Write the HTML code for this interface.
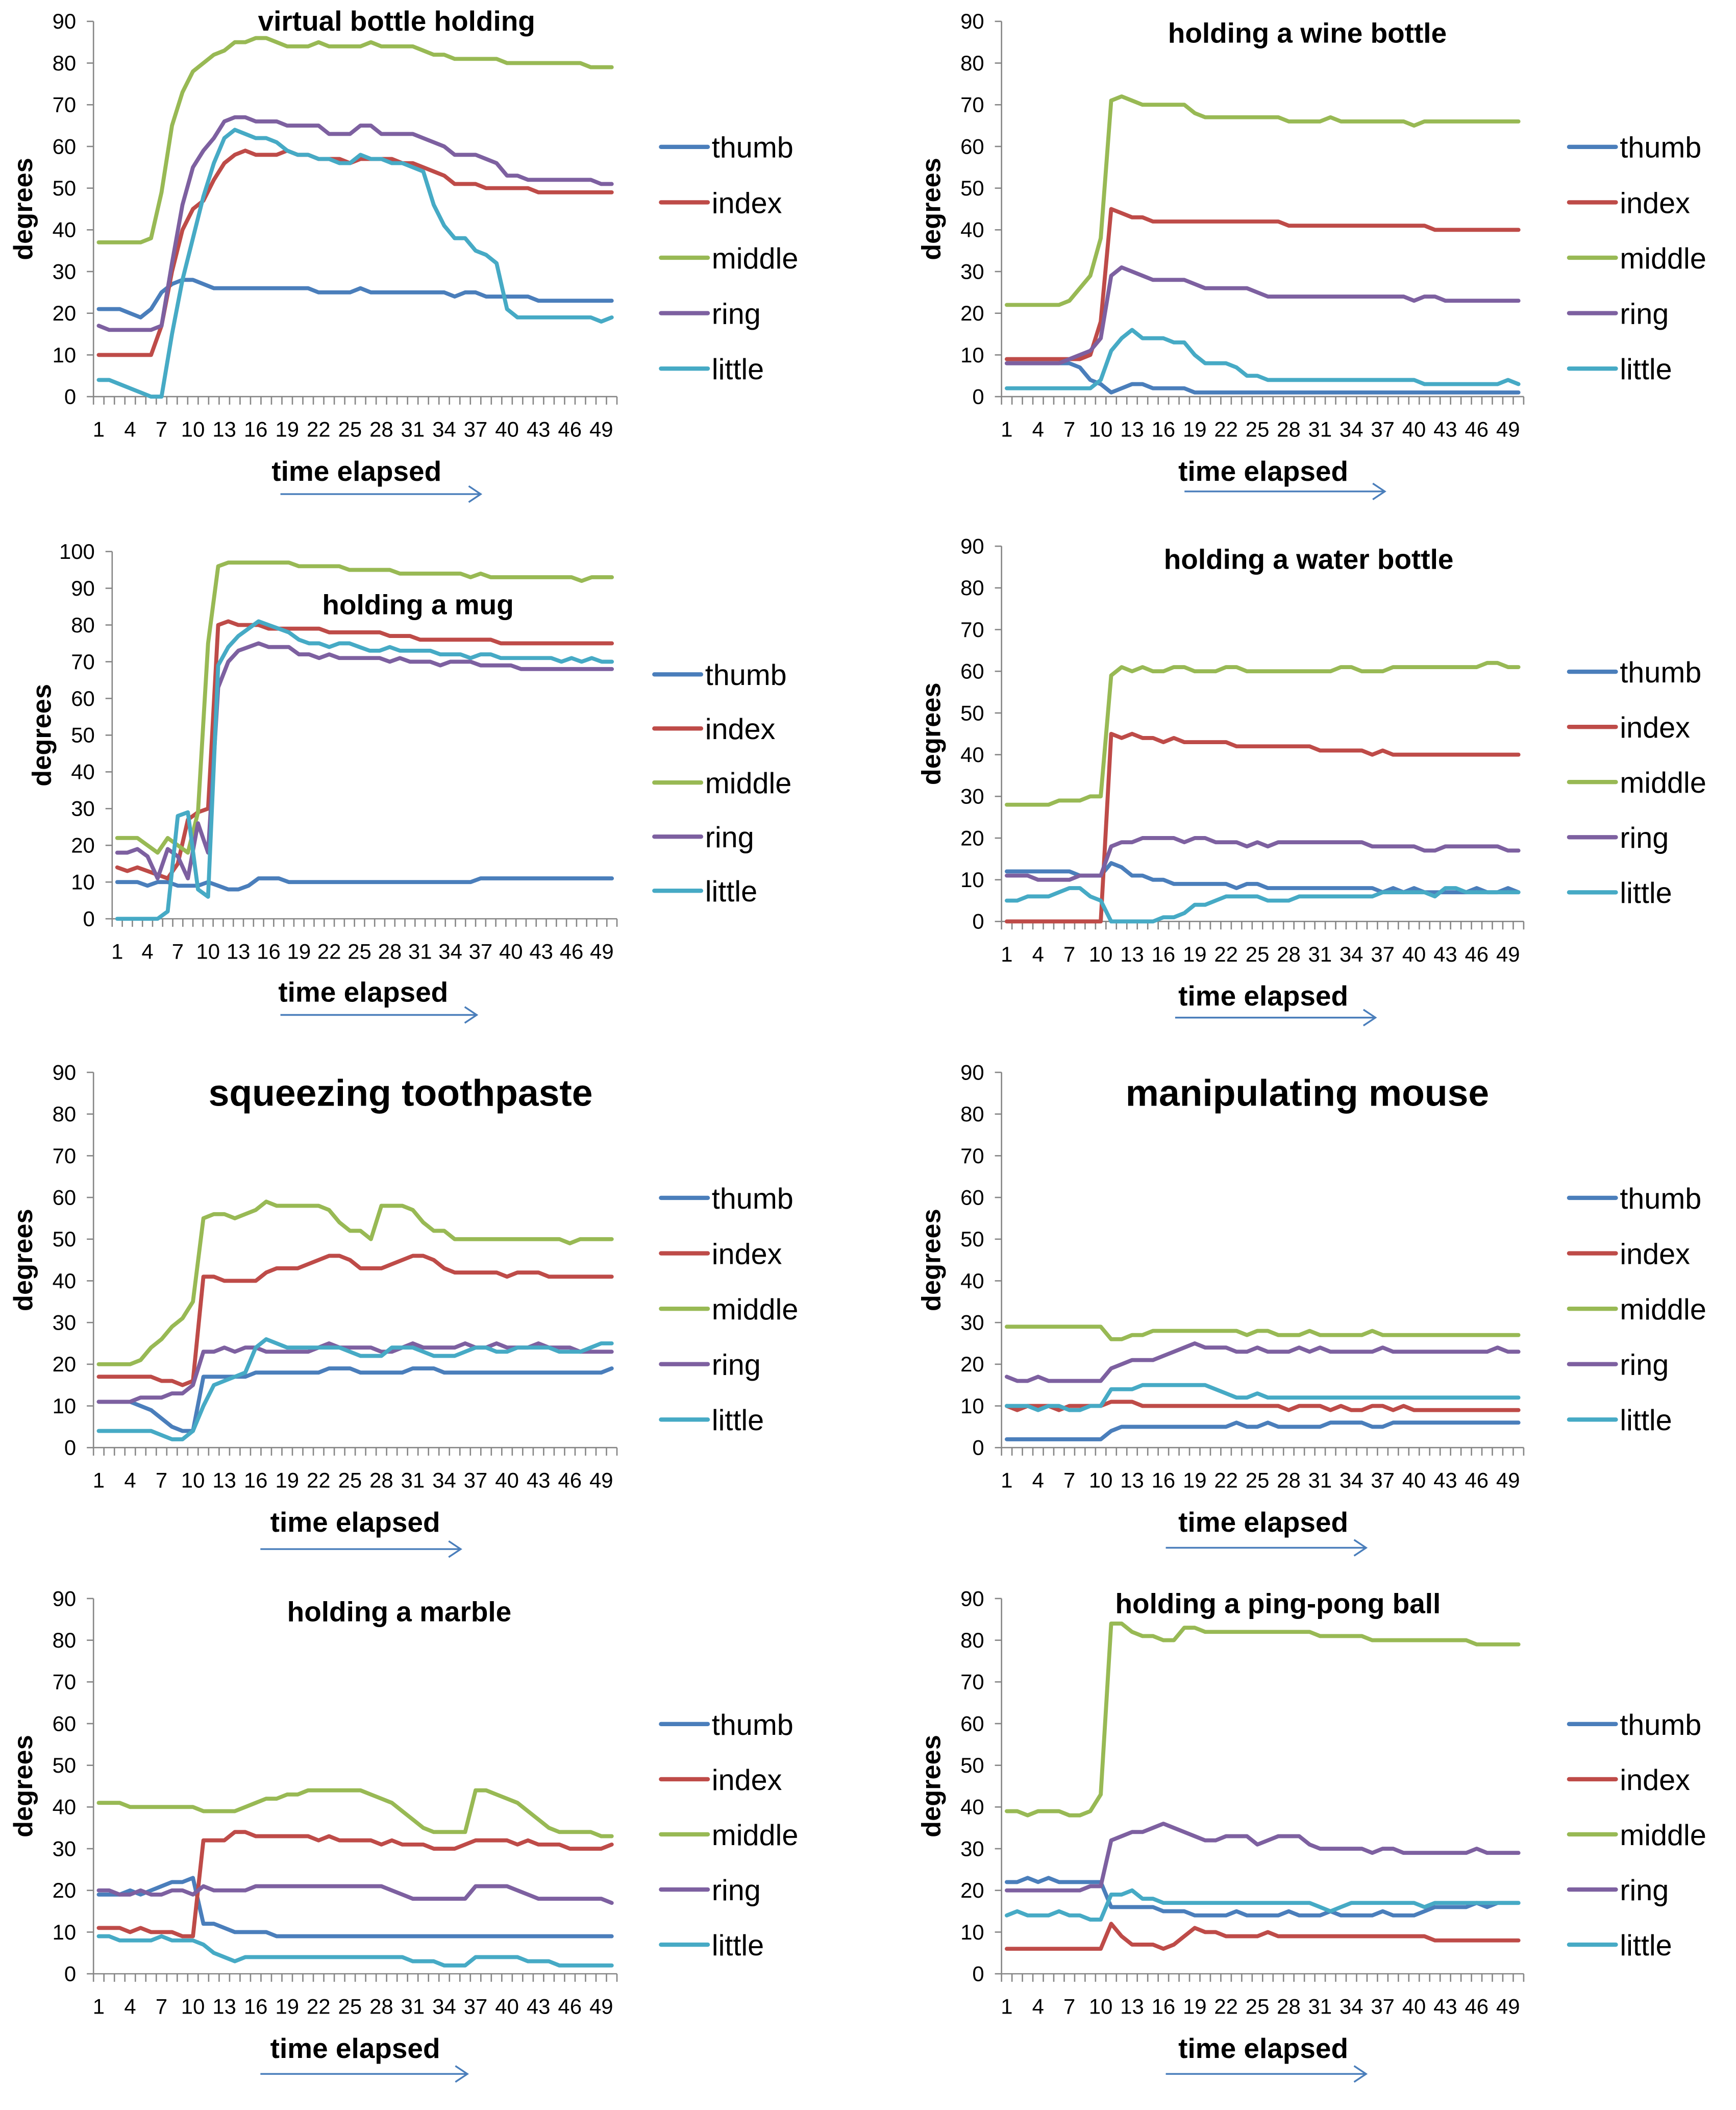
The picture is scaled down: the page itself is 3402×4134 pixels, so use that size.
<!DOCTYPE html>
<html><head><meta charset="utf-8"><title>Finger joint angles</title>
<style>
html,body{margin:0;padding:0;background:#fff;}
svg{display:block;}
text{font-family:"Liberation Sans Narrow","Liberation Sans",sans-serif;fill:#000;}
.b{font-family:"Liberation Sans",sans-serif;font-weight:bold;}
</style></head>
<body>
<svg id="fig" width="3402" height="4134" viewBox="0 0 1300 1580" preserveAspectRatio="none" xmlns="http://www.w3.org/2000/svg"></svg>
<script>
const categories=[1,2,3,4,5,6,7,8,9,10,11,12,13,14,15,16,17,18,19,20,21,22,23,24,25,26,27,28,29,30,31,32,33,34,35,36,37,38,39,40,41,42,43,44,45,46,47,48,49,50];
const xTickLabels=[1,4,7,10,13,16,19,22,25,28,31,34,37,40,43,46,49];
const seriesNames=["thumb","index","middle","ring","little"];
const seriesColors=["#4a7ebb","#be4b48","#98b954","#7d60a0","#46aac5"];

const vbThumb=[21,21,21,20,19,21,25,27,28,28,27,26,26,26,26,26,26,26,26,26,26,25,25,25,25,26,25,25,25,25,25,25,25,25,24,25,25,24,24,24,24,24,23,23,23,23,23,23,23,23];
const vbIndex=[10,10,10,10,10,10,17,30,40,45,47,52,56,58,59,58,58,58,59,58,58,57,57,57,56,57,57,57,57,56,56,55,54,53,51,51,51,50,50,50,50,50,49,49,49,49,49,49,49,49];
const vbMiddle=[37,37,37,37,37,38,49,65,73,78,80,82,83,85,85,86,86,85,84,84,84,85,84,84,84,84,85,84,84,84,84,83,82,82,81,81,81,81,81,80,80,80,80,80,80,80,80,79,79,79];
const vbRing=[17,16,16,16,16,16,17,32,46,55,59,62,66,67,67,66,66,66,65,65,65,65,63,63,63,65,65,63,63,63,63,62,61,60,58,58,58,57,56,53,53,52,52,52,52,52,52,52,51,51];
const vbLittle=[4,4,3,2,1,0,0,15,28,38,48,56,62,64,63,62,62,61,59,58,58,57,57,56,56,58,57,57,56,56,55,54,46,41,38,38,35,34,32,21,19,19,19,19,19,19,19,19,18,19];

const wbThumb=[8,8,8,8,8,8,8,7,4,3,1,2,3,3,2,2,2,2,1,1,1,1,1,1,1,1,1,1,1,1,1,1,1,1,1,1,1,1,1,1,1,1,1,1,1,1,1,1,1,1];
const wbIndex=[9,9,9,9,9,9,9,9,10,18,45,44,43,43,42,42,42,42,42,42,42,42,42,42,42,42,42,41,41,41,41,41,41,41,41,41,41,41,41,41,41,40,40,40,40,40,40,40,40,40];
const wbMiddle=[22,22,22,22,22,22,23,26,29,38,71,72,71,70,70,70,70,70,68,67,67,67,67,67,67,67,67,66,66,66,66,67,66,66,66,66,66,66,66,65,66,66,66,66,66,66,66,66,66,66];
const wbRing=[8,8,8,8,8,8,9,10,11,14,29,31,30,29,28,28,28,28,27,26,26,26,26,26,25,24,24,24,24,24,24,24,24,24,24,24,24,24,24,23,24,24,23,23,23,23,23,23,23,23];
const wbLittle=[2,2,2,2,2,2,2,2,2,4,11,14,16,14,14,14,13,13,10,8,8,8,7,5,5,4,4,4,4,4,4,4,4,4,4,4,4,4,4,4,3,3,3,3,3,3,3,3,4,3];

const mgThumb=[10,10,10,9,10,10,9,9,9,10,9,8,8,9,11,11,11,10,10,10,10,10,10,10,10,10,10,10,10,10,10,10,10,10,10,10,11,11,11,11,11,11,11,11,11,11,11,11,11,11];
const mgIndex=[14,13,14,13,12,11,15,27,29,30,80,81,80,80,80,79,79,79,79,79,79,78,78,78,78,78,78,77,77,77,76,76,76,76,76,76,76,76,75,75,75,75,75,75,75,75,75,75,75,75];
const mgMiddle=[22,22,22,20,18,22,20,18,29,75,96,97,97,97,97,97,97,97,96,96,96,96,96,95,95,95,95,95,94,94,94,94,94,94,94,93,94,93,93,93,93,93,93,93,93,93,92,93,93,93];
const mgRing=[18,18,19,17,11,19,17,11,26,18,63,70,73,74,75,74,74,74,72,72,71,72,71,71,71,71,71,70,71,70,70,70,69,70,70,70,69,69,69,69,68,68,68,68,68,68,68,68,68,68];
const mgLittle=[0,0,0,0,0,2,28,29,8,6,69,74,77,79,81,80,79,78,76,75,75,74,75,75,74,73,73,74,73,73,73,73,72,72,72,71,72,72,71,71,71,71,71,71,70,71,70,71,70,70];

const wtThumb=[12,12,12,12,12,12,12,11,11,11,14,13,11,11,10,10,9,9,9,9,9,9,8,9,9,8,8,8,8,8,8,8,8,8,8,8,7,8,7,8,7,7,7,7,7,8,7,7,8,7];
const wtIndex=[0,0,0,0,0,0,0,0,0,0,45,44,45,44,44,43,44,43,43,43,43,43,42,42,42,42,42,42,42,42,41,41,41,41,41,40,41,40,40,40,40,40,40,40,40,40,40,40,40,40];
const wtMiddle=[28,28,28,28,28,29,29,29,30,30,59,61,60,61,60,60,61,61,60,60,60,61,61,60,60,60,60,60,60,60,60,60,61,61,60,60,60,61,61,61,61,61,61,61,61,61,62,62,61,61];
const wtRing=[11,11,11,10,10,10,10,11,11,11,18,19,19,20,20,20,20,19,20,20,19,19,19,18,19,18,19,19,19,19,19,19,19,19,19,18,18,18,18,18,17,17,18,18,18,18,18,18,17,17];
const wtLittle=[5,5,6,6,6,7,8,8,6,5,0,0,0,0,0,1,1,2,4,4,5,6,6,6,6,5,5,5,6,6,6,6,6,6,6,6,7,7,7,7,7,6,8,8,7,7,7,7,7,7];

const tpThumb=[11,11,11,11,10,9,7,5,4,4,17,17,17,17,17,18,18,18,18,18,18,18,19,19,19,18,18,18,18,18,19,19,19,18,18,18,18,18,18,18,18,18,18,18,18,18,18,18,18,19];
const tpIndex=[17,17,17,17,17,17,16,16,15,16,41,41,40,40,40,40,42,43,43,43,44,45,46,46,45,43,43,43,44,45,46,46,45,43,42,42,42,42,42,41,42,42,42,41,41,41,41,41,41,41];
const tpMiddle=[20,20,20,20,21,24,26,29,31,35,55,56,56,55,56,57,59,58,58,58,58,58,57,54,52,52,50,58,58,58,57,54,52,52,50,50,50,50,50,50,50,50,50,50,50,49,50,50,50,50];
const tpRing=[11,11,11,11,12,12,12,13,13,15,23,23,24,23,24,24,23,23,23,23,23,24,25,24,24,24,24,23,23,24,25,24,24,24,24,25,24,24,25,24,24,24,25,24,24,24,23,23,23,23];
const tpLittle=[4,4,4,4,4,4,3,2,2,4,10,15,16,17,18,24,26,25,24,24,24,24,24,24,23,22,22,22,24,24,24,23,22,22,22,23,24,24,23,23,24,24,24,24,23,23,23,24,25,25];

const msThumb=[2,2,2,2,2,2,2,2,2,2,4,5,5,5,5,5,5,5,5,5,5,5,6,5,5,6,5,5,5,5,5,6,6,6,6,5,5,6,6,6,6,6,6,6,6,6,6,6,6,6];
const msIndex=[10,9,10,10,10,9,10,10,10,10,11,11,11,10,10,10,10,10,10,10,10,10,10,10,10,10,10,9,10,10,10,9,10,9,9,10,10,9,10,9,9,9,9,9,9,9,9,9,9,9];
const msMiddle=[29,29,29,29,29,29,29,29,29,29,26,26,27,27,28,28,28,28,28,28,28,28,28,27,28,28,27,27,27,28,27,27,27,27,27,28,27,27,27,27,27,27,27,27,27,27,27,27,27,27];
const msRing=[17,16,16,17,16,16,16,16,16,16,19,20,21,21,21,22,23,24,25,24,24,24,23,23,24,23,23,23,24,23,24,23,23,23,23,23,24,23,23,23,23,23,23,23,23,23,23,24,23,23];
const msLittle=[10,10,10,9,10,10,9,9,10,10,14,14,14,15,15,15,15,15,15,15,14,13,12,12,13,12,12,12,12,12,12,12,12,12,12,12,12,12,12,12,12,12,12,12,12,12,12,12,12,12];

const mbThumb=[19,19,19,20,19,20,21,22,22,23,12,12,11,10,10,10,10,9,9,9,9,9,9,9,9,9,9,9,9,9,9,9,9,9,9,9,9,9,9,9,9,9,9,9,9,9,9,9,9,9];
const mbIndex=[11,11,11,10,11,10,10,10,9,9,32,32,32,34,34,33,33,33,33,33,33,32,33,32,32,32,32,31,32,31,31,31,30,30,30,31,32,32,32,32,31,32,31,31,31,30,30,30,30,31];
const mbMiddle=[41,41,41,40,40,40,40,40,40,40,39,39,39,39,40,41,42,42,43,43,44,44,44,44,44,44,43,42,41,39,37,35,34,34,34,34,44,44,43,42,41,39,37,35,34,34,34,34,33,33];
const mbRing=[20,20,19,19,20,19,19,20,20,19,21,20,20,20,20,21,21,21,21,21,21,21,21,21,21,21,21,21,20,19,18,18,18,18,18,18,21,21,21,21,20,19,18,18,18,18,18,18,18,17];
const mbLittle=[9,9,8,8,8,8,9,8,8,8,7,5,4,3,4,4,4,4,4,4,4,4,4,4,4,4,4,4,4,4,3,3,3,2,2,2,4,4,4,4,4,3,3,3,2,2,2,2,2,2];

const ppThumb=[22,22,23,22,23,22,22,22,22,22,16,16,16,16,16,15,15,15,14,14,14,14,15,14,14,14,14,15,14,14,14,15,14,14,14,14,15,14,14,14,15,16,16,16,16,17,16,17,17,17];
const ppIndex=[6,6,6,6,6,6,6,6,6,6,12,9,7,7,7,6,7,9,11,10,10,9,9,9,9,10,9,9,9,9,9,9,9,9,9,9,9,9,9,9,9,8,8,8,8,8,8,8,8,8];
const ppMiddle=[39,39,38,39,39,39,38,38,39,43,84,84,82,81,81,80,80,83,83,82,82,82,82,82,82,82,82,82,82,82,81,81,81,81,81,80,80,80,80,80,80,80,80,80,80,79,79,79,79,79];
const ppRing=[20,20,20,20,20,20,20,20,21,21,32,33,34,34,35,36,35,34,33,32,32,33,33,33,31,32,33,33,33,31,30,30,30,30,30,29,30,30,29,29,29,29,29,29,29,30,29,29,29,29];
const ppLittle=[14,15,14,14,14,15,14,14,13,13,19,19,20,18,18,17,17,17,17,17,17,17,17,17,17,17,17,17,17,17,16,15,16,17,17,17,17,17,17,17,16,17,17,17,17,17,17,17,17,17];

const charts=[
 {id:"virtual-bottle",title:"virtual bottle holding",ts:21,tx:297,ty:23,x0:70,x1:462,yt:16,yb:297,ymax:90,step:10,lx:495,ly:110,ld:41.5,tex:267,tey:360,ax0:210,ax1:360,ay:370,d:[vbThumb,vbIndex,vbMiddle,vbRing,vbLittle]},
 {id:"wine-bottle",title:"holding a wine bottle",ts:21,tx:979,ty:32,x0:750,x1:1141,yt:16,yb:297,ymax:90,step:10,lx:1175,ly:110,ld:41.5,tex:946,tey:360,ax0:887,ax1:1037,ay:368,d:[wbThumb,wbIndex,wbMiddle,wbRing,wbLittle]},
 {id:"mug",title:"holding a mug",ts:21,tx:313,ty:460,x0:84,x1:462,yt:413,yb:688,ymax:100,step:10,lx:490,ly:505,ld:40.5,tex:272,tey:750,ax0:210,ax1:357,ay:760,d:[mgThumb,mgIndex,mgMiddle,mgRing,mgLittle]},
 {id:"water-bottle",title:"holding a water bottle",ts:21,tx:980,ty:426,x0:750,x1:1141,yt:409,yb:690,ymax:90,step:10,lx:1175,ly:503,ld:41.3,tex:946,tey:753,ax0:880,ax1:1030,ay:762,d:[wtThumb,wtIndex,wtMiddle,wtRing,wtLittle]},
 {id:"toothpaste",title:"squeezing toothpaste",ts:28,tx:300,ty:828,x0:70,x1:462,yt:803,yb:1084,ymax:90,step:10,lx:495,ly:897,ld:41.5,tex:266,tey:1147,ax0:195,ax1:345,ay:1160,d:[tpThumb,tpIndex,tpMiddle,tpRing,tpLittle]},
 {id:"mouse",title:"manipulating mouse",ts:28,tx:979,ty:828,x0:750,x1:1141,yt:803,yb:1084,ymax:90,step:10,lx:1175,ly:897,ld:41.5,tex:946,tey:1147,ax0:873,ax1:1023,ay:1159,d:[msThumb,msIndex,msMiddle,msRing,msLittle]},
 {id:"marble",title:"holding a marble",ts:21,tx:299,ty:1214,x0:70,x1:462,yt:1197,yb:1478,ymax:90,step:10,lx:495,ly:1291,ld:41.3,tex:266,tey:1541,ax0:195,ax1:350,ay:1553,d:[mbThumb,mbIndex,mbMiddle,mbRing,mbLittle]},
 {id:"ping-pong",title:"holding a ping-pong ball",ts:21,tx:957,ty:1208,x0:750,x1:1141,yt:1197,yb:1478,ymax:90,step:10,lx:1175,ly:1291,ld:41.3,tex:946,tey:1541,ax0:873,ax1:1023,ay:1553,d:[ppThumb,ppIndex,ppMiddle,ppRing,ppLittle]}
];

const NS="http://www.w3.org/2000/svg";
const svg=document.getElementById("fig");
function mk(tag,attrs,parent,txt){const e=document.createElementNS(NS,tag);for(const k in attrs)e.setAttribute(k,attrs[k]);if(txt!==undefined)e.textContent=txt;parent.appendChild(e);return e;}

charts.forEach(c=>{
 const g=mk("g",{},svg);
 
 
 const n=categories.length, bw=(c.x1-c.x0)/n;
 const xs=i=>c.x0+(i+0.5)*bw;
 const ys=v=>c.yb-(v/c.ymax)*(c.yb-c.yt);
 const ya=mk("line",{x1:c.x0,y1:c.yt,x2:c.x0,y2:c.yb,stroke:"#868686","stroke-width":1},g);
 
 
 for(let v=0;v<=c.ymax;v+=c.step){
  mk("line",{x1:c.x0-5,y1:ys(v),x2:c.x0,y2:ys(v),stroke:"#868686","stroke-width":1},g);
  const t=mk("text",{x:c.x0-13,y:ys(v)+5.5,"text-anchor":"end","font-size":16},g,String(v));
  
  
 }
 const xa=mk("line",{x1:c.x0,y1:c.yb,x2:c.x1,y2:c.yb,stroke:"#868686","stroke-width":1},g);
 
 
 for(let i=0;i<=n;i++){mk("line",{x1:c.x0+i*bw,y1:c.yb,x2:c.x0+i*bw,y2:c.yb+6,stroke:"#868686","stroke-width":1},g);}
 xTickLabels.forEach(l=>{
  const t=mk("text",{x:xs(categories.indexOf(l)),y:c.yb+30,"text-anchor":"middle","font-size":16},g,String(l));
  
  
 });
 const yt=mk("text",{x:0,y:0,"text-anchor":"middle","font-size":20,class:"b",transform:`translate(${c.x0-46},${(c.yt+c.yb)/2}) rotate(-90)`},g,"degrees");
 
 
 const tt=mk("text",{x:c.tx,y:c.ty,"text-anchor":"middle","font-size":c.ts,class:"b"},g,c.title);
 
 
 const xt=mk("text",{x:c.tex,y:c.tey,"text-anchor":"middle","font-size":21,class:"b"},g,"time elapsed");
 
 
 const ar=mk("path",{d:`M${c.ax0},${c.ay}H${c.ax1}M${c.ax1-9},${c.ay-6}L${c.ax1},${c.ay}L${c.ax1-9},${c.ay+6}`,stroke:"#4a7ebb","stroke-width":1.3,fill:"none"},g);
 
 
 c.d.forEach((arr,s)=>{
  const pts=arr.map((v,i)=>xs(i).toFixed(2)+","+ys(v).toFixed(2)).join(" ");
  const pl=mk("polyline",{points:pts,fill:"none",stroke:seriesColors[s],"stroke-width":3,"stroke-linejoin":"round","stroke-linecap":"round"},g);
  
  
  const ly=c.ly+s*c.ld;
  const lg=mk("g",{},g);
  
  
  mk("line",{x1:c.lx,y1:ly,x2:c.lx+35,y2:ly,stroke:seriesColors[s],"stroke-width":3.2,"stroke-linecap":"round"},lg);
  mk("text",{x:c.lx+38,y:ly+8,"font-size":22},lg,seriesNames[s]);
 });
});
</script>
</body></html>
